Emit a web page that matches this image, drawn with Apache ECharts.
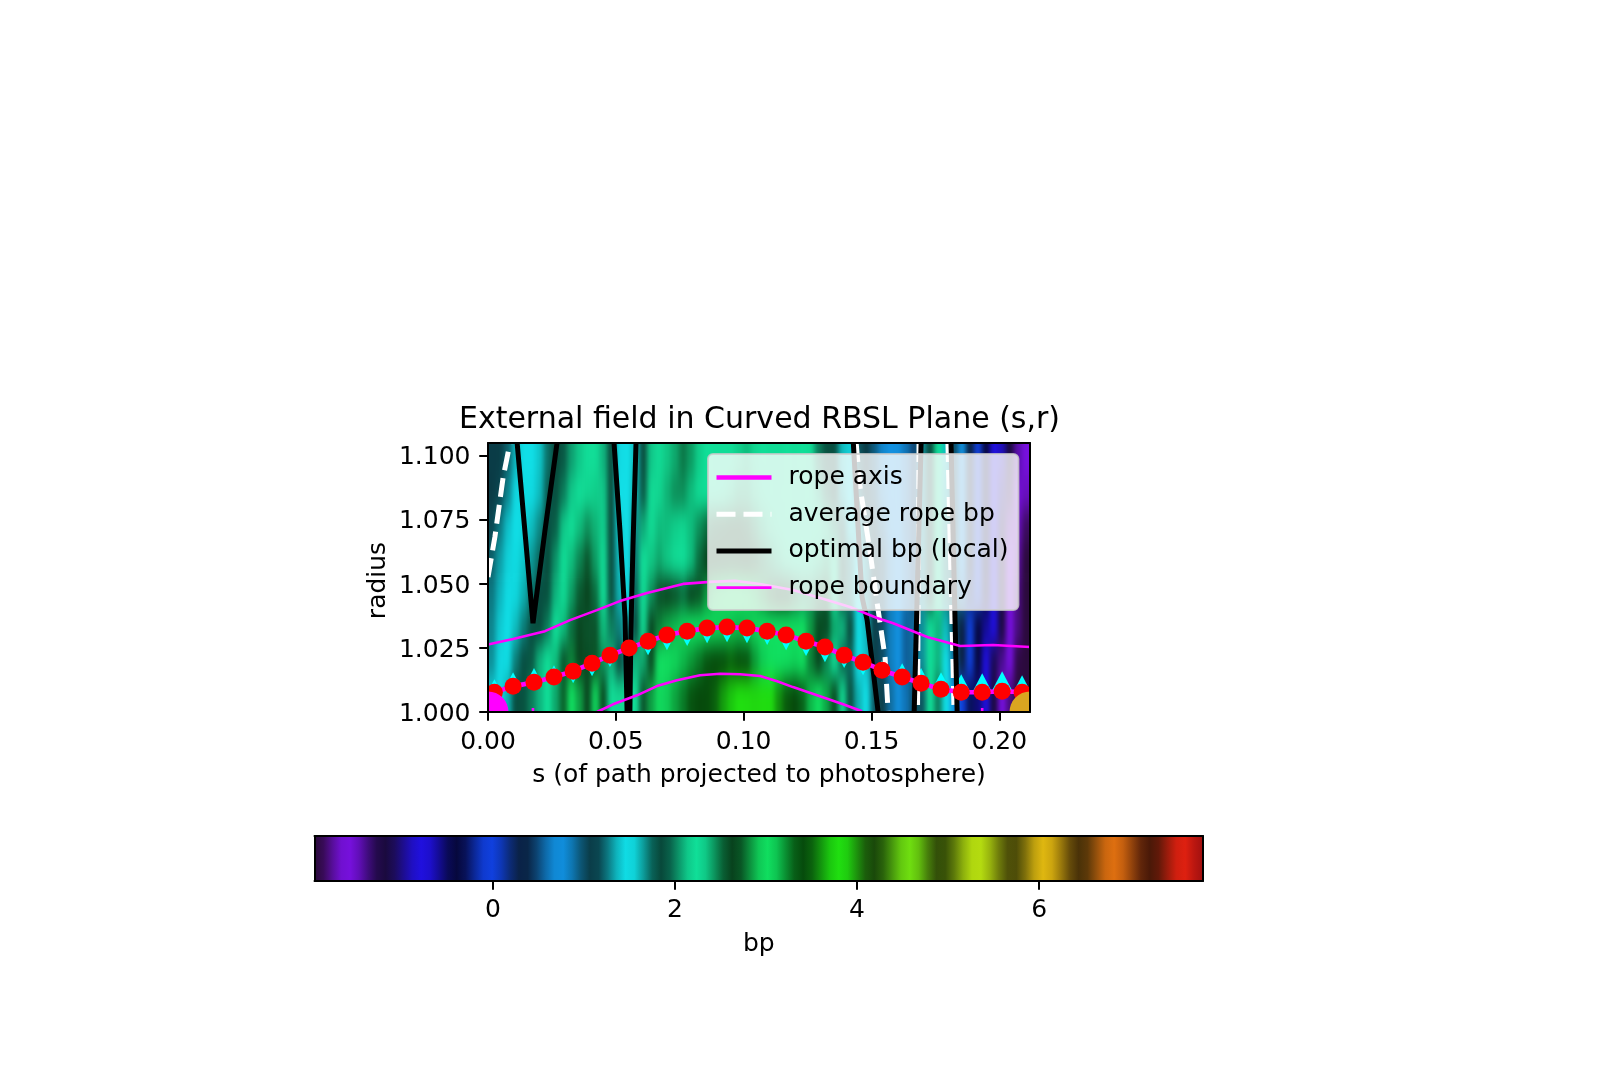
<!DOCTYPE html>
<html lang="en">
  <head>
    <meta charset="UTF-8" />
    <title>External field in Curved RBSL Plane</title>
    <style>
      body {
        margin: 0;
        background: #fff;
      }
      /* heatmap layer: smoothed like imshow and cut back to the plot box */
      canvas[data-zr-dom-id="zr_-1"] {
        filter: url(#smooth);
        clip-path: inset(443px 594px 368px 488px);
      }
    </style>
    <script src="https://cdn.jsdelivr.net/npm/echarts@6/dist/echarts.min.js"></script>
  </head>

  <body>
    <svg width="0" height="0" style="position: absolute">
      <filter id="smooth" x="0" y="0" width="100%" height="100%" color-interpolation-filters="sRGB">
        <feGaussianBlur stdDeviation="2.8 11" />
      </filter>
    </svg>
    <div id="main" style="width: 1624px; height: 1080px"></div>
    <script>
      // axis ranges and ticks
      var sMax = 0.212;
      var rMin = 1.0;
      var rMax = 1.1048;
      var bpMin = -1.96;
      var bpMax = 7.8;
      var sTicks = [0, 0.05, 0.1, 0.15, 0.2];
      var rTicks = [1, 1.025, 1.05, 1.075, 1.1];
      var bpTicks = [0, 2, 4, 6];

      // bp, rows run from top (large r) to bottom, 68 columns across s
      var bpRows = [
        [1.08,1.12,1.22,1.36,1.50,1.50,1.58,1.72,1.84,1.92,
         2.06,2.14,2.22,2.26,2.10,1.86,1.45,1.50,1.60,1.86,
         2.14,2.28,2.34,2.40,2.48,2.42,2.32,2.24,2.22,2.22,
         2.26,2.32,2.36,2.30,2.24,2.20,2.20,2.24,2.26,2.24,
         2.20,2.00,1.90,1.80,1.60,1.42,1.20,1.10,0.95,0.82,
         0.74,0.70,0.60,0.48,1.30,1.84,2.24,1.60,1.00,0.74,
         0.33,0.00,-0.40,-0.77,-0.90,-1.20,-1.45,-1.60],
        [1.10,1.16,1.28,1.44,1.52,1.52,1.60,1.76,1.88,2.00,
         2.14,2.22,2.30,2.32,2.14,1.86,1.50,1.50,1.62,1.92,
         2.20,2.30,2.38,2.44,2.44,2.36,2.28,2.24,2.24,2.28,
         2.34,2.40,2.40,2.34,2.28,2.24,2.22,2.24,2.26,2.26,
         2.24,2.10,1.96,1.84,1.62,1.44,1.24,1.12,0.98,0.84,
         0.76,0.72,0.60,0.48,1.30,1.84,2.24,1.62,1.00,0.72,
         0.33,0.00,-0.40,-0.77,-1.00,-1.30,-1.55,-1.70],
        [1.16,1.26,1.38,1.50,1.54,1.60,1.68,1.80,1.94,2.14,
         2.26,2.36,2.44,2.38,2.16,1.84,1.56,1.50,1.68,2.08,
         2.28,2.36,2.36,2.32,2.30,2.36,2.44,2.50,2.54,2.56,
         2.58,2.58,2.54,2.46,2.38,2.32,2.28,2.26,2.26,2.26,
         2.28,2.26,2.14,2.02,1.76,1.56,1.36,1.20,1.04,0.92,
         0.80,0.72,0.58,0.50,1.30,1.84,2.24,1.66,1.10,0.74,
         0.33,0.00,-0.40,-0.77,-1.10,-1.45,-1.70,-1.85],
        [1.22,1.32,1.42,1.52,1.58,1.66,1.74,1.84,2.04,2.26,
         2.36,2.46,2.55,2.42,2.20,1.82,1.60,1.50,1.72,2.24,
         2.34,2.40,2.34,2.28,2.24,2.36,2.50,2.62,2.66,2.68,
         2.70,2.68,2.64,2.56,2.48,2.42,2.36,2.30,2.26,2.24,
         2.28,2.34,2.40,2.24,1.90,1.70,1.50,1.30,1.10,1.00,
         0.85,0.74,0.60,0.50,1.30,1.84,2.24,1.70,1.20,0.74,
         0.33,0.00,-0.40,-0.77,-1.20,-1.60,-1.75,-1.95],
        [1.26,1.36,1.46,1.54,1.62,1.72,1.80,1.90,2.10,2.28,
         2.42,2.54,2.62,2.50,2.24,1.88,1.62,1.52,1.76,2.26,
         2.44,2.56,2.60,2.56,2.50,2.60,2.72,2.84,2.92,2.96,
         3.00,3.00,2.96,2.90,2.82,2.74,2.66,2.60,2.50,2.44,
         2.44,2.50,2.54,2.24,1.90,1.70,1.50,1.30,1.10,1.00,
         0.85,0.74,0.60,0.50,1.30,1.84,2.24,1.70,1.20,0.60,
         0.20,-0.10,-0.45,-0.80,-1.20,-1.60,-1.80,-1.95],
        [1.28,1.40,1.50,1.60,1.70,1.80,1.86,2.00,2.24,2.36,
         2.50,2.60,2.56,2.56,2.36,2.00,1.70,1.58,1.84,2.30,
         2.60,2.80,2.86,2.90,2.94,3.00,3.04,3.06,3.08,3.10,
         3.12,3.14,3.12,3.08,3.04,3.02,3.00,3.00,3.02,3.00,
         2.84,2.70,2.58,2.40,2.10,1.84,1.50,1.36,1.12,1.00,
         0.85,0.74,0.55,0.90,1.30,2.24,2.10,1.60,1.00,0.33,
         0.00,-0.40,-0.60,-0.80,-1.20,-1.60,-1.80,-1.95],
        [1.30,1.44,1.52,1.70,1.80,1.92,2.10,2.24,2.36,2.55,
         2.80,2.66,2.58,2.72,2.44,2.10,1.84,1.70,2.10,2.40,
         2.70,3.00,3.04,3.08,3.14,3.20,3.26,3.34,3.40,3.44,
         3.50,3.44,3.36,3.20,3.10,3.04,3.00,3.04,3.08,3.02,
         2.80,2.62,2.45,2.24,1.96,1.74,1.50,1.38,1.12,1.00,
         0.85,0.74,0.55,0.90,1.30,2.24,2.10,1.50,0.90,0.33,
         0.00,-0.40,-0.77,-1.10,-1.40,-1.60,-1.90,-1.95],
        [1.40,1.52,1.62,1.80,1.90,2.00,2.10,2.24,2.40,2.75,
         3.00,2.85,2.68,2.95,2.70,2.20,2.30,2.30,2.24,2.55,
         2.85,3.06,3.10,3.18,3.25,3.34,3.40,3.42,3.50,3.62,
         3.70,3.80,3.84,3.86,3.84,3.78,3.60,3.48,3.40,3.30,
         3.14,3.04,2.86,2.70,2.30,1.88,1.62,1.50,1.20,1.08,
         0.90,0.78,0.60,1.00,1.20,2.24,2.00,1.50,0.74,0.00,
         -0.30,-0.55,-0.80,-1.20,-1.60,-1.80,-1.95,-1.95],
      ];

      // rope axis samples
      var axisS = [0.0025,0.0098,0.018,0.0258,0.0333,0.0407,0.0477,0.0552,0.0626,0.07,
        0.0779,0.0857,0.0935,0.1013,0.1092,0.1166,0.1244,0.1318,0.1393,0.1467,
        0.1541,0.162,0.1694,0.1772,0.1851,0.1933,0.2011,0.2089];
      var axisR = [1.0077,1.01,1.0116,1.0136,1.0159,1.019,1.0221,1.0249,1.0276,1.03,
        1.0315,1.0327,1.0331,1.0327,1.0315,1.03,1.0276,1.0253,1.0221,1.0194,
        1.0163,1.0136,1.0112,1.0089,1.0077,1.0077,1.0081,1.0077];
      // tip of the cyan wedge at each sample
      var wedgeTipR = [1.0128,1.0155,1.0171,1.0182,1.0112,1.0139,1.0175,1.0218,1.0221,1.0241,
        1.0257,1.0268,1.0272,1.0268,1.0261,1.0241,1.0218,1.0194,1.0171,1.0143,
        1.0202,1.019,1.0171,1.0155,1.0147,1.0151,1.0159,1.0143];

      // rope boundary
      var upperBoundary = [[0,1.0263],[0.0098,1.0284],[0.0223,1.0315],[0.0321,1.0358],[0.0426,1.0397],
        [0.0516,1.0432],[0.0622,1.0464],[0.0763,1.0499],[0.0869,1.0507],[0.0966,1.0511],[0.1064,1.0499],
        [0.1193,1.0475],[0.1326,1.0436],[0.1416,1.0409],[0.1522,1.0366],[0.1585,1.0346],[0.1718,1.0292],
        [0.1847,1.0257],[0.1976,1.0261],[0.212,1.0253]];
      var lowerBoundary = [[0.0426,1],[0.0489,1.003],[0.0583,1.0065],[0.0661,1.0101],[0.0739,1.0124],
        [0.0829,1.0143],[0.0908,1.0149],[0.0986,1.0147],[0.1064,1.014],[0.1131,1.012],[0.1193,1.0097],
        [0.1287,1.0065],[0.1389,1.003],[0.1463,1.0003]];
      var lowerBits = [
        [[0.0176,1],[0.0176,1.0016]],
        [[0.1933,1],[0.1933,1.0016]],
      ];

      // average rope bp
      var averageBp = [
        [[0,1.0526],[0.0027,1.0682],[0.0059,1.0913],[0.0086,1.1048]],
        [[0.144,1.1048],[0.1455,1.0878],[0.1495,1.062],[0.1522,1.0425],[0.1553,1.0214],[0.1565,1]],
        [[0.1686,1.1048],[0.168,1]],
        [[0.1799,1.1048],[0.1823,1]],
      ];
      // optimal bp (local)
      var optimalBp = [
        [[0.0114,1.1048],[0.0176,1.0346],[0.0223,1.0708],[0.027,1.1048]],
        [[0.0493,1.1048],[0.0516,1.0708],[0.0536,1.0369],[0.0544,1]],
        [[0.0579,1.1048],[0.0567,1.0645],[0.0559,1.032],[0.0555,1]],
        [[0.1429,1.1048],[0.1463,1.0448],[0.1483,1.0358],[0.1526,1]],
        [[0.1694,1.1048],[0.1667,1]],
        [[0.1811,1.1048],[0.1835,1]],
      ];

      // photosphere end points of the rope
      var footPoints = [
        { s: 0, r: 1, color: "#ff00ff" },
        { s: sMax, r: 1, color: "#daa520" },
      ];

      // colormap: bright and dark stops
      var colorStops = [
        [-1.96,"#2a0a3a"],[-1.6,"#7810e0"],[-1.2,"#1a0a3c"],[-0.77,"#2010e0"],[-0.4,"#06083c"],
        [-0.03,"#1040e0"],[0.33,"#0a2040"],[0.74,"#1090e0"],[1.1,"#0a3a44"],[1.49,"#10e0e8"],
        [1.84,"#08483a"],[2.24,"#10e098"],[2.64,"#08401c"],[3.01,"#10e060"],[3.4,"#064a0c"],
        [3.81,"#20e010"],[4.18,"#1a480a"],[4.58,"#70e010"],[4.91,"#304808"],[5.32,"#b8e010"],
        [5.71,"#484808"],[6.05,"#e0b810"],[6.45,"#483008"],[6.81,"#e07010"],[7.22,"#481808"],
        [7.58,"#e02010"],[7.8,"#a01010"],
      ];

      function hexRgb(h) {
        return [parseInt(h.slice(1, 3), 16), parseInt(h.slice(3, 5), 16), parseInt(h.slice(5, 7), 16)];
      }

      // the stops are not evenly spaced, visualMap wants an even list
      function buildColormap(n) {
        var out = [];
        for (var i = 0; i < n; i++) {
          var v = bpMin + ((bpMax - bpMin) * i) / (n - 1);
          var k = 0;
          while (k < colorStops.length - 2 && v > colorStops[k + 1][0]) k++;
          var a = colorStops[k];
          var b = colorStops[k + 1];
          var t = Math.min(1, Math.max(0, (v - a[0]) / (b[0] - a[0])));
          t = t * t * (3 - 2 * t); // flat shoulders at the bright and dark stops
          var ca = hexRgb(a[1]);
          var cb = hexRgb(b[1]);
          out.push(
            "rgb(" +
              Math.round(ca[0] + (cb[0] - ca[0]) * t) + "," +
              Math.round(ca[1] + (cb[1] - ca[1]) * t) + "," +
              Math.round(ca[2] + (cb[2] - ca[2]) * t) + ")"
          );
        }
        return out;
      }

      // one extra row and column of edge cells on each side, the clip hides them
      var heatRows = [bpRows[0]].concat(bpRows, [bpRows[bpRows.length - 1]]);
      var heatData = [];
      heatRows.forEach(function (row, j) {
        var cells = [row[0]].concat(row, [row[row.length - 1]]);
        cells.forEach(function (v, i) {
          heatData.push([i, j, v]);
        });
      });
      var colKeys = heatData.slice(0, bpRows[0].length + 2).map(function (d) { return d[0]; });
      var rowKeys = heatRows.map(function (v, j) { return j; });

      var axisPoints = axisS.map(function (s, i) { return [s, axisR[i]]; });
      var wedgeData = axisS.map(function (s, i) { return [s, axisR[i], wedgeTipR[i]]; });

      var font = "DejaVu Sans";
      var fontSize = 25;
      var frameLine = { show: true, onZero: false, lineStyle: { color: "#000", width: 2 } };
      var nameStyle = { fontFamily: font, fontSize: fontSize, color: "#000" };

      function tickAxis(extra) {
        return Object.assign(
          {
            type: "value",
            z: 10,
            splitLine: { show: false },
            axisLine: frameLine,
            axisTick: { show: false },
            axisLabel: { show: false },
          },
          extra
        );
      }
      function ticks(values) {
        return { show: true, length: 8.75, customValues: values, lineStyle: { color: "#000", width: 2 } };
      }
      // margin counts from the axis line, so tick length plus mpl's pad
      function labels(values, digits, margin) {
        return {
          show: true,
          customValues: values,
          color: "#000",
          fontFamily: font,
          fontSize: fontSize,
          margin: margin,
          formatter: function (v) { return digits === null ? String(v) : v.toFixed(digits); },
        };
      }
      function lineSeries(name, data, color, width, type) {
        return {
          type: "line",
          name: name,
          xAxisIndex: 1,
          yAxisIndex: 1,
          data: data,
          symbol: "none",
          silent: true,
          lineStyle: { color: color, width: width, type: type || "solid", cap: "butt" },
          itemStyle: { color: color },
        };
      }
      // scatter symbols are not cut at the plot box, custom circles are
      function discSeries(data, radius, color, z) {
        return {
          type: "custom",
          xAxisIndex: 1,
          yAxisIndex: 1,
          data: data,
          z: z,
          silent: true,
          clip: true,
          renderItem: function (params, api) {
            var c = api.coord([api.value(0), api.value(1)]);
            return {
              type: "circle",
              shape: { cx: c[0], cy: c[1], r: radius },
              style: { fill: color },
            };
          },
        };
      }

      var series = [
        {
          type: "heatmap",
          xAxisIndex: 0,
          yAxisIndex: 0,
          zlevel: -1,
          data: heatData,
          silent: true,
          progressive: 0,
        },
      ];
      averageBp.forEach(function (d) {
        series.push(lineSeries("average rope bp", d, "#fff", 5, [19, 8]));
      });
      optimalBp.forEach(function (d) {
        series.push(lineSeries("optimal bp (local)", d, "#000", 5));
      });
      series.push(lineSeries("rope boundary", upperBoundary, "#ff00ff", 2.6));
      series.push(lineSeries("rope boundary", lowerBoundary, "#ff00ff", 2.6));
      lowerBits.forEach(function (d) {
        series.push(lineSeries("rope boundary", d, "#ff00ff", 2.6));
      });
      // cyan wedges start at the dot centre and end at their tip
      series.push({
        type: "custom",
        xAxisIndex: 1,
        yAxisIndex: 1,
        data: wedgeData,
        z: 3,
        silent: true,
        clip: true,
        renderItem: function (params, api) {
          var c = api.coord([api.value(0), api.value(1)]);
          var t = api.coord([api.value(0), api.value(2)]);
          var half = Math.abs(t[1] - c[1]) * 0.52;
          return {
            type: "polygon",
            shape: { points: [[c[0] - half, c[1]], [c[0] + half, c[1]], [t[0], t[1]]] },
            style: { fill: "#00ffff" },
          };
        },
      });
      var ropeAxis = lineSeries("rope axis", axisPoints, "#ff00ff", 4.7);
      ropeAxis.z = 4;
      series.push(ropeAxis);
      series.push(discSeries(axisPoints, 8.5, "#ff0000", 5));
      footPoints.forEach(function (p) {
        series.push(discSeries([[p.s, p.r]], 20.5, p.color, 6));
      });

      // radius labels sit a little under their tick in the reference
      var radiusLabels = labels(rTicks, 3, 17.5);
      radiusLabels.formatter = function (v) { return "{a|" + v.toFixed(3) + "}"; };
      radiusLabels.rich = {
        a: { fontFamily: font, fontSize: fontSize, color: "#000", padding: [5, 0, 0, 0] },
      };

      var option = {
        animation: false,
        title: {
          text: "External field in Curved RBSL Plane (s,r)",
          left: 754.5,
          top: 400,
          textAlign: "center",
          textStyle: { fontFamily: font, fontSize: 30, fontWeight: "normal", color: "#000" },
        },
        grid: [
          { left: 488, top: 443, width: 542, height: 269 },
          { left: 314.5, top: 836, width: 888.5, height: 45 },
          { left: 480.03, top: 409.4, width: 557.94, height: 336.2 },
        ],
        visualMap: {
          type: "continuous",
          seriesIndex: 0,
          min: bpMin,
          max: bpMax,
          orient: "horizontal",
          left: 314.5,
          top: 836,
          itemWidth: 45,
          itemHeight: 888.5,
          padding: 0,
          text: null,
          showLabel: false,
          calculable: false,
          hoverLink: false,
          realtime: false,
          inRange: { color: buildColormap(196) },
        },
        legend: {
          left: 708,
          top: 454,
          orient: "vertical",
          padding: [11, 10, 10, 6],
          itemWidth: 55,
          itemHeight: 20,
          itemGap: 11.7,
          selectedMode: false,
          backgroundColor: "rgba(255,255,255,0.8)",
          borderColor: "rgba(204,204,204,0.8)",
          borderWidth: 2,
          borderRadius: 5,
          lineStyle: { width: "inherit", type: "inherit" },
          itemStyle: { opacity: 0 },
          data: ["rope axis", "average rope bp", "optimal bp (local)", "rope boundary"],
          textStyle: { fontFamily: font, fontSize: fontSize, color: "#000", padding: [0, 0, 0, 12] },
        },
        xAxis: [
          { type: "category", gridIndex: 2, data: colKeys, show: false },
          tickAxis({
            gridIndex: 0,
            position: "bottom",
            min: 0,
            max: sMax,
            axisTick: ticks(sTicks),
            axisLabel: labels(sTicks, 2, 17.5),
            name: "s (of path projected to photosphere)",
            nameLocation: "middle",
            nameGap: 51,
            nameTextStyle: nameStyle,
          }),
          tickAxis({ gridIndex: 0, position: "top", min: 0, max: sMax }),
          tickAxis({
            gridIndex: 1,
            position: "bottom",
            min: bpMin,
            max: bpMax,
            axisTick: ticks(bpTicks),
            axisLabel: labels(bpTicks, null, 17),
            name: "bp",
            nameLocation: "middle",
            nameGap: 51,
            nameTextStyle: nameStyle,
          }),
          tickAxis({ gridIndex: 1, position: "top", min: bpMin, max: bpMax }),
        ],
        yAxis: [
          { type: "category", gridIndex: 2, data: rowKeys, inverse: true, show: false },
          tickAxis({
            gridIndex: 0,
            position: "left",
            min: rMin,
            max: rMax,
            axisTick: ticks(rTicks),
            axisLabel: radiusLabels,
            name: "radius",
            nameLocation: "middle",
            nameGap: 97,
            nameTextStyle: Object.assign({ padding: [0, 6, 0, 0] }, nameStyle),
          }),
          tickAxis({ gridIndex: 0, position: "right", min: rMin, max: rMax }),
          tickAxis({ gridIndex: 1, position: "left", min: 0, max: 1 }),
          tickAxis({ gridIndex: 1, position: "right", min: 0, max: 1 }),
        ],
        series: series,
      };

      var myChart = echarts.init(document.getElementById("main"));
      myChart.setOption(option);
    </script>
  </body>
</html>
